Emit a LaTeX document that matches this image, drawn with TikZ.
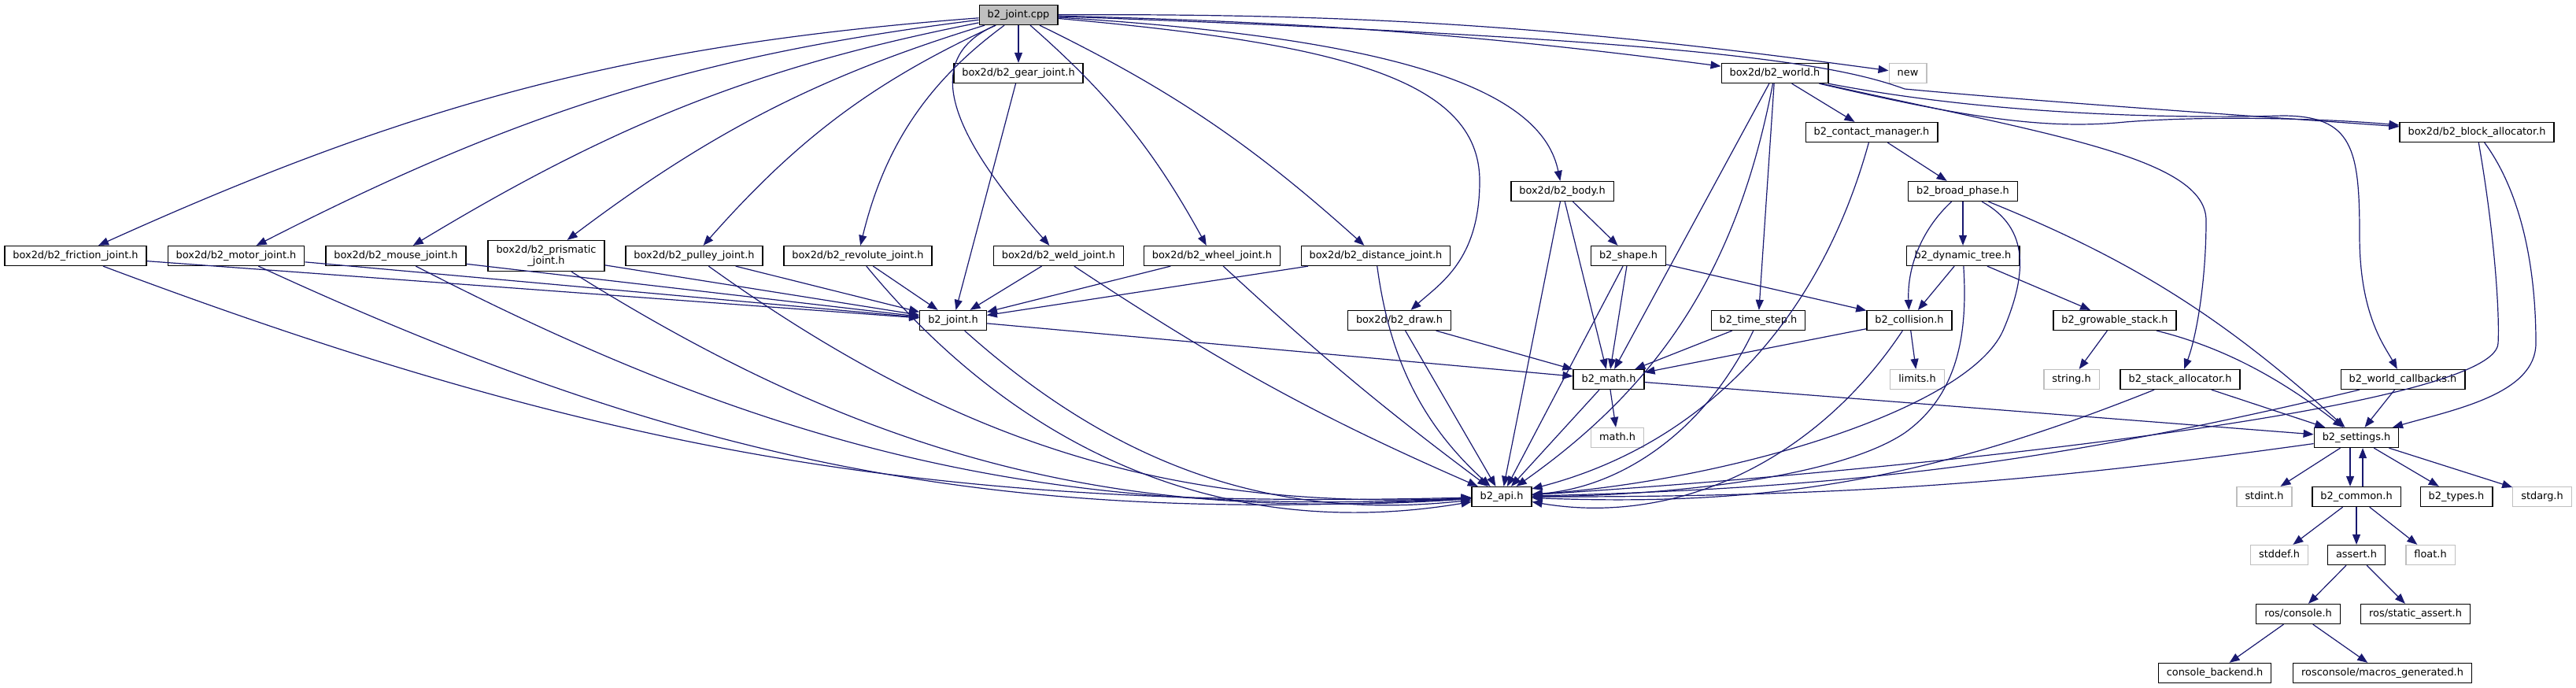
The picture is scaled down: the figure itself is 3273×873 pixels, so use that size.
\documentclass[tikz,border=0pt]{standalone}
\usepackage{fontspec}
\setmainfont{DejaVu Sans}
\usetikzlibrary{arrows.meta,calc}
\definecolor{edgeblue}{HTML}{191970}
\definecolor{sysgray}{HTML}{BFBFBF}
\newcommand{\bendl}[3]{\draw[dep] (#1) .. controls ($(#1)!0.39!#3:(#2)$) and ($(#2)!0.39!-#3:(#1)$) .. (#2);}
\newcommand{\bendr}[3]{\draw[dep] (#1) .. controls ($(#1)!0.39!-#3:(#2)$) and ($(#2)!0.39!#3:(#1)$) .. (#2);}
\begin{document}
\begin{tikzpicture}
        [x=1pt,y=1pt,
         nodebox/.style={draw=black,line width=1.3pt,fill=white,inner xsep=10.5pt,inner ysep=0pt,
           minimum height=25pt,font=\fontsize{12.9}{14}\selectfont},
         hdr/.style={nodebox,text height=9.8pt,text depth=3.1pt},
         syshdr/.style={hdr,draw=sysgray},
         dep/.style={draw=edgeblue,line width=1.2pt,-{Triangle[length=13pt,width=10pt]}}]
        \useasboundingbox (0,0) rectangle (3273,-873);

        \node[hdr,fill=sysgray] (cpp) at (1294,-19) {b2\_joint.cpp};

        \node[hdr] (gear) at (1294,-93) {box2d/b2\_gear\_joint.h};
        \node[hdr] (world) at (2255,-93) {box2d/b2\_world.h};
        \node[syshdr] (newh) at (2424,-93) {new};
        \node[hdr] (contact) at (2378,-168) {b2\_contact\_manager.h};
        \node[hdr] (blockalloc) at (3147,-168) {box2d/b2\_block\_allocator.h};
        \node[hdr] (body) at (1985,-243) {box2d/b2\_body.h};
        \node[hdr] (broad) at (2494,-243) {b2\_broad\_phase.h};

        \node[hdr] (frict) at (96,-325) {box2d/b2\_friction\_joint.h};
        \node[hdr] (motor) at (300,-325) {box2d/b2\_motor\_joint.h};
        \node[hdr] (mouse) at (503,-325) {box2d/b2\_mouse\_joint.h};
        \node[nodebox,align=center,minimum height=39pt] (prism) at (694,-325) {box2d/b2\_prismatic\\\_joint.h};
        \node[hdr] (pulley) at (882,-325) {box2d/b2\_pulley\_joint.h};
        \node[hdr] (revol) at (1090,-325) {box2d/b2\_revolute\_joint.h};
        \node[hdr] (weld) at (1345,-325) {box2d/b2\_weld\_joint.h};
        \node[hdr] (wheel) at (1540,-325) {box2d/b2\_wheel\_joint.h};
        \node[hdr] (dist) at (1748,-325) {box2d/b2\_distance\_joint.h};
        \node[hdr] (shape) at (2069,-325) {b2\_shape.h};
        \node[hdr] (dyntree) at (2494,-325) {b2\_dynamic\_tree.h};

        \node[hdr] (jointh) at (1211,-407) {b2\_joint.h};
        \node[hdr] (drawh) at (1778,-407) {box2d/b2\_draw.h};
        \node[hdr] (tstep) at (2234,-407) {b2\_time\_step.h};
        \node[hdr] (coll) at (2426,-407) {b2\_collision.h};
        \node[hdr] (growstack) at (2687,-407) {b2\_growable\_stack.h};

        \node[hdr] (mathh) at (2044,-482) {b2\_math.h};
        \node[syshdr] (limits) at (2436,-482) {limits.h};
        \node[syshdr] (stringh) at (2632,-482) {string.h};
        \node[hdr] (stackalloc) at (2770,-482) {b2\_stack\_allocator.h};
        \node[hdr] (worldcb) at (3053,-482) {b2\_world\_callbacks.h};

        \node[syshdr] (cmath) at (2055,-556) {math.h};
        \node[hdr] (settings) at (2994,-556) {b2\_settings.h};

        \node[hdr] (api) at (1908,-631) {b2\_api.h};
        \node[syshdr] (stdint) at (2877,-631) {stdint.h};
        \node[hdr] (common) at (2994,-631) {b2\_common.h};
        \node[hdr] (types) at (3121,-631) {b2\_types.h};
        \node[syshdr] (stdarg) at (3230,-631) {stdarg.h};

        \node[syshdr] (stddef) at (2896,-705) {stddef.h};
        \node[hdr] (assert) at (2994,-705) {assert.h};
        \node[syshdr] (floath) at (3088,-705) {float.h};
        \node[hdr] (roscon) at (2920,-780) {ros/console.h};
        \node[hdr] (rossa) at (3069,-780) {ros/static\_assert.h};
        \node[hdr] (conback) at (2814,-855) {console\_backend.h};
        \node[hdr] (macrogen) at (3027,-855) {rosconsole/macros\_generated.h};

        \foreach \j/\b in {frict/10,motor/10,mouse/10,prism/10,pulley/12,revol/20}
        {\bendr{cpp}{\j}{\b}}
        \draw[dep] (cpp) -- (gear);
        \draw[dep] (cpp) .. controls (1180,-70) and (1190,-150) .. (weld);
        \bendl{cpp}{wheel}{10}
        \bendl{cpp}{dist}{8}
        \draw[dep] (cpp) .. controls (1800,-50) and (1960,-120) .. (body);
        \draw[dep] (cpp) .. controls (1700,-55) and (1880,-100) .. (1880,-230)
          .. controls (1880,-330) and (1830,-360) .. (drawh);
        \bendl{cpp}{world}{3}
        \bendl{cpp}{newh}{4}
        \draw[dep] (cpp) .. controls (2150,-50) and (2330,-80) .. (2420,-113)
          .. controls (2600,-130) and (2900,-150) .. (blockalloc);

        \draw[dep] (gear) -- (jointh);
        \foreach \j in {frict,motor,mouse,prism,pulley,revol,weld,wheel,dist}
        {\draw[dep] (\j) -- (jointh);}
        \foreach \j/\b in {frict/11,motor/14,mouse/15,prism/18,pulley/19,revol/30,jointh/24,weld/5,wheel/3,dist/20}
        {\bendr{\j}{api}{\b}}

        \draw[dep] (world) -- (contact);
        \draw[dep] (world) -- (tstep);
        \draw[dep] (world) -- (mathh);
        \draw[dep] (world) .. controls (2500,-150) and (2600,-165) .. (2700,-155)
          .. controls (2800,-147) and (2950,-150) .. (blockalloc);
        \draw[dep] (world) .. controls (2550,-150) and (2800,-150) .. (2900,-147)
          .. controls (2990,-147) and (2998,-190) .. (2998,-300)
          .. controls (2998,-400) and (3030,-440) .. (worldcb);
        \draw[dep] (world) .. controls (2600,-170) and (2803,-200) .. (2803,-280)
          .. controls (2803,-360) and (2790,-430) .. (stackalloc);

        \draw[dep] (contact) -- (broad);
        \draw[dep] (broad) -- (dyntree);
        \bendr{broad}{coll}{25}
        \bendl{broad}{settings}{10}
        \draw[dep] (dyntree) -- (coll);
        \draw[dep] (dyntree) -- (growstack);
        \draw[dep] (growstack) -- (stringh);
        \bendl{growstack}{settings}{12}

        \draw[dep] (body) -- (shape);
        \draw[dep] (body) -- (mathh);
        \draw[dep] (body) -- (api);
        \draw[dep] (shape) -- (mathh);
        \draw[dep] (shape) -- (api);
        \draw[dep] (shape) -- (coll);
        \draw[dep] (jointh) -- (mathh);
        \draw[dep] (drawh) -- (mathh);
        \draw[dep] (drawh) -- (api);
        \draw[dep] (tstep) -- (mathh);
        \draw[dep] (coll) -- (mathh);
        \draw[dep] (coll) -- (limits);
        \draw[dep] (mathh) -- (cmath);
        \draw[dep] (mathh) -- (api);
        \draw[dep] (mathh) -- (settings);

        \foreach \j/\b in {world/22,contact/30,coll/33,tstep/30,stackalloc/12,worldcb/6,settings/4}
        {\bendl{\j}{api}{\b}}
        \draw[dep] (broad) .. controls (2580,-290) and (2575,-350) .. (2545,-420)
          .. controls (2500,-520) and (2200,-610) .. (api);
        \draw[dep] (dyntree) .. controls (2500,-420) and (2490,-500) .. (2420,-550)
          .. controls (2330,-610) and (2100,-630) .. (api);
        \draw[dep] (stackalloc) -- (settings);
        \draw[dep] (worldcb) -- (settings);
        \draw[dep] (blockalloc) .. controls (3170,-300) and (3176,-400) .. (3174,-436)
          .. controls (3172,-520) and (2400,-600) .. (api);
        \draw[dep] (blockalloc) .. controls (3200,-240) and (3222,-330) .. (3222,-436)
          .. controls (3222,-500) and (3120,-520) .. (settings);

        \draw[dep] (settings) -- (stdint);
        \draw[dep] ([xshift=-8pt]settings.south) -- ([xshift=-8pt]common.north);
        \draw[dep] ([xshift=8pt]common.north) -- ([xshift=8pt]settings.south);
        \draw[dep] (settings) -- (types);
        \draw[dep] (settings) -- (stdarg);
        \draw[dep] (common) -- (stddef);
        \draw[dep] (common) -- (assert);
        \draw[dep] (common) -- (floath);
        \draw[dep] (assert) -- (roscon);
        \draw[dep] (assert) -- (rossa);
        \draw[dep] (roscon) -- (conback);
        \draw[dep] (roscon) -- (macrogen);
      \end{tikzpicture}
\end{document}
